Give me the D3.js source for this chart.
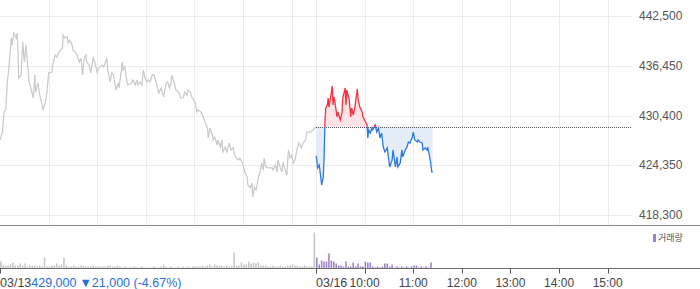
<!DOCTYPE html>
<html>
<head>
<meta charset="utf-8">
<script src="https://cdn.jsdelivr.net/npm/d3@7/dist/d3.min.js"></script>
<style>
body { margin: 0; background: #fff; }
svg { display: block; font-family: "Liberation Sans", Arial, sans-serif; }
</style>
</head>
<body>
<div class="chart"></div>
<script>
// previous day (03/13), [minutes since 09:00, price]
var day1 = [[0,427420],[3,428390],[5,430830],[7,431070],[9,434350],[11,436180],[14,439830],[15,438970],[17,440430],[20,439830],
  [21,440430],[22,438970],[23,434960],[26,435330],[28,439340],[30,436910],[32,438970],[33,437760],[36,434470],[38,433750],
  [41,432530],[43,435330],[44,433260],[47,434350],[49,432890],[52,431680],[53,431070],[56,432040],[58,433260],[60,435570],
  [64,435690],[65,436540],[68,437760],[70,437510],[73,438120],[77,438610],[78,440190],[80,439830],[83,439950],[84,439220],
  [86,439580],[89,438970],[90,438370],[93,438120],[95,437760],[98,436910],[100,437390],[102,435330],[104,437390],[106,437760],
  [107,436910],[110,436540],[112,435570],[115,437390],[117,436910],[120,435570],[122,436180],[126,436540],[128,436300],[132,437390],
  [133,435930],[136,434470],[138,435570],[140,435330],[143,433500],[146,434350],[147,433750],[151,436910],[152,435930],[154,436300],
  [157,434350],[158,434110],[162,434350],[164,434720],[167,434110],[169,434720],[170,434110],[173,434470],[175,434110],[177,435930],
  [179,434960],[181,434470],[183,434720],[185,434470],[188,435330],[190,435330],[193,434350],[195,433500],[196,433140],[199,433750],
  [200,433260],[202,432650],[205,434350],[207,434470],[209,433750],[211,434350],[212,435330],[215,434350],[217,433500],[220,433260],
  [221,433140],[223,432530],[226,432530],[228,433260],[231,432890],[232,433500],[235,433260],[237,432530],[238,432530],[241,431920],
  [243,430830],[244,431070],[248,430830],[251,430220],[253,429610],[256,428880],[257,427670],[259,428880],[262,428030],[263,427420],
  [265,427790],[268,426810],[269,427420],[272,426570],[274,427420],[275,425960],[278,426570],[280,425960],[283,427060],[285,426210],
  [288,426450],[289,425840],[291,425350],[294,424990],[296,425230],[299,424630],[300,424380],[302,423530],[305,422920],[306,421950],
  [309,421590],[311,422190],[312,420490],[314,421710],[316,421340],[319,422920],[321,423530],[323,424630],[325,423770],[326,425230],
  [328,424140],[331,424020],[336,424020],[337,423770],[340,424380],[342,423530],[343,424990],[346,424020],[348,423530],[349,424750],
  [352,423770],[354,423170],[356,426210],[358,425230],[360,425600],[362,424630],[364,424990],[367,426450],[369,427060],[372,426450],
  [374,427060],[377,427420],[379,428390],[383,428390],[386,428640],[390,429000]];

// today (03/16), [minutes since 09:00, price]
var day2 = [[0,425480],[1,424990],[2,424020],[4,424380],[6,422800],[7,421950],[9,422920],[10,425350],[11,429490],[12,431310],
  [14,431680],[15,432530],[16,431430],[19,433260],[20,433990],[21,431680],[22,432650],[23,432290],[26,430220],[27,430830],
  [30,429850],[32,430700],[33,432530],[36,433750],[37,431680],[38,433500],[41,432290],[43,430220],[44,431310],[46,430460],
  [48,431430],[51,433620],[52,432290],[54,431430],[57,430830],[58,430220],[60,429850],[63,429250],[64,427670],[65,428640],
  [67,428270],[69,428880],[70,428640],[73,429250],[75,428390],[77,428880],[79,427670],[81,428270],[83,426570],[85,425960],
  [88,426450],[89,425600],[91,424140],[94,424990],[95,426210],[98,424140],[100,425350],[101,424140],[104,424630],[106,426210],
  [107,425350],[110,426210],[112,426450],[114,427180],[116,427060],[119,427790],[120,428390],[122,427420],[125,427180],[126,427420],
  [128,427180],[131,427060],[132,426210],[135,426450],[137,426210],[138,426450],[141,424990],[143,423530],[144,423530]];

var prevClose = 429000;

// volume per 3 minutes
var day1Vol = [7,4,3,3,4,6,3,3,5,3, 5,2,3,3,3,2,3,2,11,2, 2,3,3,5,3,4,11,3,2,2, 3,2,2,3,3,2,2,2,3,2,
  2,2,2,2,3,3,2,2,3,2, 1,2,1,1,1,2,1,1,2,1, 1,1,1,2,1,1,2,4,2,1, 2,1,1,2,1,2,1,2,1,2,
  2,2,2,3,2,3,4,2,4,3, 3,3,2,3,2,3,16,3,3,6, 4,4,7,5,6,5,6,3,3,3, 2,2,3,2,2,3,2,2,3,3,
  4,3,3,2,2,3,2,2,2,36];
var day2Vol = [11,4,8,7,7,15,8,7,5,3, 3,2,7,2,2,6,2,5,2,2, 7,6,6,2,1,2,1,2,5,5,
  2,4,1,2,1,2,1,2,1,2, 3,3,1,2,1,2,1,6];

var yTicks = [418300, 424350, 430400, 436450, 442500];
var hourLabels = ["10:00", "11:00", "12:00", "13:00", "14:00", "15:00"];
var dayLabels = ["03/13", "03/16"];
var changeText = ["429,000", "\u25BC21,000 (-4.67%)"];

var width = 700, height = 289;
var plotRight = 632, priceBottom = 225.5, volBottom = 268.5;

var svg = d3.select(".chart").append("svg")
    .attr("width", width)
    .attr("height", height);

var x = d3.scaleLinear().domain([0, 780]).range([0, plotRight]);
var y = d3.scaleLinear().domain([418300, 442500]).range([215, 16]);
var vy = d3.scaleLinear().domain([0, 40]).range([volBottom, volBottom - 40]);

// grid
var hourTicks1 = d3.range(60, 390, 60);
var hourTicks2 = d3.range(1, 7).map(function(h) { return 390 + h * 60; });
var vGrid = hourTicks1.concat([390]).concat(hourTicks2);

svg.append("g").selectAll("line")
  .data(yTicks)
  .enter().append("line")
    .attr("x1", 0).attr("x2", plotRight)
    .attr("y1", function(d) { return Math.round(y(d)) + 0.5; })
    .attr("y2", function(d) { return Math.round(y(d)) + 0.5; })
    .attr("stroke", "#ebebeb");

svg.append("g").selectAll("line")
  .data(vGrid)
  .enter().append("line")
    .attr("x1", function(d) { return Math.round(x(d)) + 0.5; })
    .attr("x2", function(d) { return Math.round(x(d)) + 0.5; })
    .attr("y1", 0).attr("y2", priceBottom)
    .attr("stroke", "#ebebeb");

// y labels
svg.append("g").selectAll("text")
  .data(yTicks)
  .enter().append("text")
    .attr("x", 639)
    .attr("y", function(d) { return y(d); })
    .attr("dy", "0.35em")
    .attr("font-size", 12)
    .attr("fill", "#555")
    .text(function(d) { return d3.format(",")(d); });

// price lines
var line1 = d3.line()
    .x(function(d) { return x(d[0]); })
    .y(function(d) { return y(d[1]); });
var line2 = d3.line()
    .x(function(d) { return x(390 + d[0]); })
    .y(function(d) { return y(d[1]); });
var area2 = d3.area()
    .x(function(d) { return x(390 + d[0]); })
    .y0(y(prevClose))
    .y1(function(d) { return y(d[1]); });

svg.append("path")
    .datum(day1)
    .attr("d", line1)
    .attr("fill", "none")
    .attr("stroke", "#c9c9cd")
    .attr("stroke-width", 1.2);

var defs = svg.append("defs");
defs.append("clipPath").attr("id", "clipUp")
  .append("rect").attr("x", 0).attr("y", 0).attr("width", width).attr("height", y(prevClose));
defs.append("clipPath").attr("id", "clipDown")
  .append("rect").attr("x", 0).attr("y", y(prevClose)).attr("width", width).attr("height", priceBottom - y(prevClose));

svg.append("path").datum(day2).attr("d", area2)
    .attr("fill", "#fde3e5").attr("clip-path", "url(#clipUp)");
svg.append("path").datum(day2).attr("d", area2)
    .attr("fill", "#e5edf9").attr("clip-path", "url(#clipDown)");

svg.append("line")
    .attr("x1", x(390)).attr("x2", plotRight)
    .attr("y1", Math.round(y(prevClose)) + 0.5).attr("y2", Math.round(y(prevClose)) + 0.5)
    .attr("stroke", "#555")
    .attr("stroke-dasharray", "1,1");

svg.append("path").datum(day2).attr("d", line2)
    .attr("fill", "none").attr("stroke", "#f2323f").attr("stroke-width", 1.3)
    .attr("clip-path", "url(#clipUp)");
svg.append("path").datum(day2).attr("d", line2)
    .attr("fill", "none").attr("stroke", "#2b78e0").attr("stroke-width", 1.3)
    .attr("clip-path", "url(#clipDown)");

// volume
var barW = x(3) - x(0) - 0.9;
svg.append("g").selectAll("rect")
  .data(day1Vol)
  .enter().append("rect")
    .attr("x", function(d, i) { return x(i * 3); })
    .attr("y", function(d) { return vy(d); })
    .attr("width", barW)
    .attr("height", function(d) { return volBottom - vy(d); })
    .attr("fill", "#c6c6c8");

svg.append("g").selectAll("rect")
  .data(day2Vol)
  .enter().append("rect")
    .attr("x", function(d, i) { return x(390 + i * 3); })
    .attr("y", function(d) { return vy(d); })
    .attr("width", barW)
    .attr("height", function(d) { return volBottom - vy(d); })
    .attr("fill", "#9b82c8");

// panel lines
svg.append("line")
    .attr("x1", 0).attr("x2", width)
    .attr("y1", priceBottom).attr("y2", priceBottom)
    .attr("stroke", "#8a8a8a");
svg.append("line")
    .attr("x1", 0).attr("x2", width)
    .attr("y1", volBottom).attr("y2", volBottom)
    .attr("stroke", "#6f6f6f");

// bottom ticks
svg.append("g").selectAll("line")
  .data([0, 390].concat(hourTicks2))
  .enter().append("line")
    .attr("x1", function(d) { return Math.round(x(d)) + 0.5; })
    .attr("x2", function(d) { return Math.round(x(d)) + 0.5; })
    .attr("y1", volBottom).attr("y2", volBottom + 5)
    .attr("stroke", "#555");

svg.append("g").selectAll("text")
  .data(hourTicks2)
  .enter().append("text")
    .attr("x", function(d) { return x(d); })
    .attr("y", 287)
    .attr("text-anchor", "middle")
    .attr("font-size", 12)
    .attr("fill", "#444")
    .text(function(d, i) { return hourLabels[i]; });

svg.append("text")
    .attr("x", x(390)).attr("y", 287)
    .attr("font-size", 12.5).attr("fill", "#444")
    .text(dayLabels[1]);

var t = svg.append("text")
    .attr("x", 0).attr("y", 287)
    .attr("font-size", 12.5).attr("fill", "#444");
t.append("tspan").text(dayLabels[0]);
t.append("tspan").attr("fill", "#2a6fd6").text(changeText[0]);
t.append("tspan").attr("dx", 3).attr("fill", "#2a6fd6").text(changeText[1]);

// legend
svg.append("rect")
    .attr("x", 653).attr("y", 234).attr("width", 3).attr("height", 8)
    .attr("fill", "#9b82c8");
svg.append("text")
    .attr("x", 658).attr("y", 238)
    .attr("dy", "0.35em")
    .attr("font-family", "'Noto Sans CJK KR', sans-serif")
    .attr("font-size", 9)
    .attr("fill", "#555")
    .text("거래량");
</script>
</body>
</html>
